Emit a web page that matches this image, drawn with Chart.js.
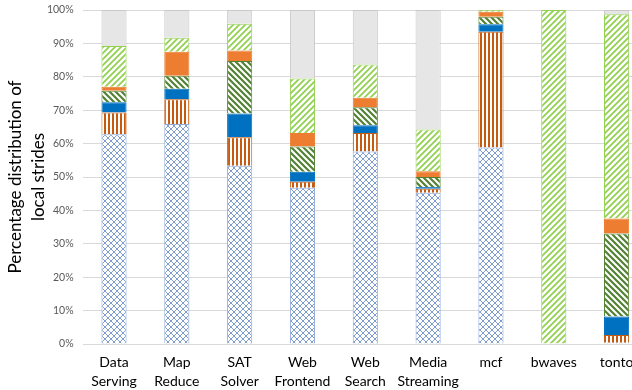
<!DOCTYPE html>
<html>
<head>
<meta charset="utf-8">
<script src="https://cdn.jsdelivr.net/npm/chart.js@4"></script>
<style>
  html, body { margin: 0; padding: 0; background: #fff; overflow: hidden; }
  #wrap { width: 650px; height: 390px; }
</style>
</head>
<body>
<div id="wrap"><canvas id="c" width="650" height="390"></canvas></div>
<script>
// Workloads on the x axis
const categories = [
  ['Data', 'Serving'], ['Map', 'Reduce'], ['SAT', 'Solver'], ['Web', 'Frontend'],
  ['Web', 'Search'], ['Media', 'Streaming'], ['mcf'], ['bwaves'], ['tonto']
];

// Share (%) of each stride class, stacked bottom to top
const crossHatch   = [62.8, 65.9, 53.4, 46.8, 57.6, 45.3, 58.8, 0, 0.4];
const vertStripe   = [6.5, 7.4, 8.5, 1.8, 5.6, 1.2, 34.7, 0, 2.3];
const solidBlue    = [3.1, 3.1, 7.1, 3.0, 2.3, 0.5, 2.2, 0, 5.5];
const darkDiag     = [3.4, 3.9, 15.7, 7.5, 5.4, 3.0, 2.3, 0, 24.9];
const solidOrange  = [1.2, 7.2, 3.2, 4.1, 2.8, 1.7, 1.5, 0, 4.5];
const lightDiag    = [12.2, 4.2, 8.0, 16.3, 10.0, 12.5, 0.5, 100, 61.1];
const remainder    = [10.8, 8.3, 4.1, 20.5, 16.3, 35.8, 0, 0, 1.3];

// Y tick values
const yTicks = [0, 10, 20, 30, 40, 50, 60, 70, 80, 90, 100];

function tile(size, draw) {
  const t = document.createElement('canvas');
  t.width = size; t.height = size;
  const g = t.getContext('2d');
  g.fillStyle = '#ffffff';
  g.fillRect(0, 0, size, size);
  draw(g, size);
  return document.getElementById('c').getContext('2d').createPattern(t, 'repeat');
}

const hatchPattern = tile(6, (g, s) => {
  g.strokeStyle = '#7f9ccf';
  g.lineWidth = 1;
  g.beginPath();
  g.moveTo(0, 0); g.lineTo(s, s);
  g.moveTo(s, 0); g.lineTo(0, s);
  g.stroke();
});

const vertPattern = tile(4, (g, s) => {
  g.fillStyle = '#c55a11';
  g.fillRect(0, 0, 2, s);
});

function diag(color, back, width) {
  return tile(6, (g, s) => {
    g.strokeStyle = color;
    g.lineWidth = width;
    g.lineCap = 'square';
    g.beginPath();
    if (back) {
      g.moveTo(0, 0); g.lineTo(s, s);
      g.moveTo(-s / 2, s / 2); g.lineTo(s / 2, s * 1.5);
      g.moveTo(s / 2, -s / 2); g.lineTo(s * 1.5, s / 2);
    } else {
      g.moveTo(0, s); g.lineTo(s, 0);
      g.moveTo(-s / 2, s / 2); g.lineTo(s / 2, -s / 2);
      g.moveTo(s / 2, s * 1.5); g.lineTo(s * 1.5, s / 2);
    }
    g.stroke();
  });
}

const darkPattern = diag('#548235', true, 2.2);
const lightPattern = diag('#92d050', false, 1.8);

const series = [
  { data: crossHatch,  backgroundColor: hatchPattern, borderColor: '#8faadc' },
  { data: vertStripe,  backgroundColor: vertPattern,  borderColor: '#c55a11' },
  { data: solidBlue,   backgroundColor: '#0070c0',    borderColor: '#0070c0' },
  { data: darkDiag,    backgroundColor: darkPattern,  borderColor: '#548235' },
  { data: solidOrange, backgroundColor: '#ed7d31',    borderColor: '#ed7d31' },
  { data: lightDiag,   backgroundColor: lightPattern, borderColor: '#92d050' },
  { data: remainder,   backgroundColor: '#e7e6e6',    borderColor: '#c9c9c9' }
].map(s => Object.assign(s, {
  borderWidth: 1,
  categoryPercentage: 0.4,
  barPercentage: 1
}));

const FONT = 'Lato, "Open Sans", sans-serif';

new Chart(document.getElementById('c'), {
  type: 'bar',
  data: { labels: categories, datasets: series },
  options: {
    responsive: false,
    animation: false,
    devicePixelRatio: 1,
    layout: { padding: { top: 10, right: 2, left: 4, bottom: 0 } },
    plugins: { legend: { display: false }, tooltip: { enabled: false } },
    scales: {
      x: {
        stacked: true,
        grid: { display: false, drawTicks: false },
        border: { display: false },
        ticks: { color: '#000', font: { family: FONT, size: 14, lineHeight: 1.35 }, padding: 9, maxRotation: 0, autoSkip: false },
        afterFit: s => { s.height = 46; }
      },
      y: {
        stacked: true,
        min: 0, max: 100,
        afterBuildTicks: s => { s.ticks = yTicks.map(v => ({ value: v })); },
        grid: { color: '#d9d9d9', drawTicks: false },
        border: { display: false },
        ticks: { color: '#595959', font: { family: FONT, size: 10.5 }, padding: 9, callback: v => v + '%' },
        title: {
          display: true,
          text: ['Percentage distribution of', 'local strides'],
          color: '#000',
          font: { family: FONT, size: 17, lineHeight: 1.35 },
          padding: { top: 0, bottom: 0 }
        },
        afterFit: s => { s.width = 78.6; s.paddingTop = 0; s.paddingBottom = 0; }
      }
    }
  }
});
</script>
</body>
</html>
